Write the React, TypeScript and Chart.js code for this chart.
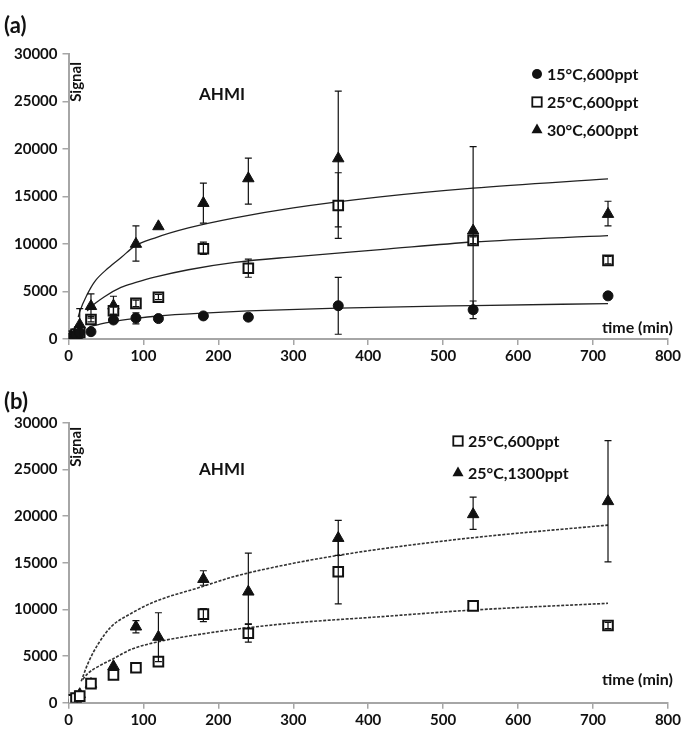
import React, { useEffect, useRef } from "react";
import { Chart, registerables } from "chart.js";
Chart.register(...registerables);

// ---------- data ----------
const TIMES = [5, 10, 15, 30, 60, 90, 120, 180, 240, 360, 540, 720];

// panel (a)
const A_15C_600 = [250, 450, 650, 770, 2000, 2200, 2150, 2430, 2300, 3500, 3080, 4540];
const A_15C_600_LO = [null, null, null, null, null, 1600, null, null, null, 500, 2150, null];
const A_15C_600_HI = [null, null, null, null, null, 2750, null, null, null, 6480, 4000, null];

const S_25C_600 = [300, 500, 700, 2050, 2980, 3750, 4400, 9500, 7450, 14050, 10380, 8280];
const A_25C_600_LO = [null, null, null, 1800, 2600, 3400, 4150, 8900, 6500, 10600, 10050, 7900];
const A_25C_600_HI = [null, null, null, 2350, 3350, 4100, 4700, 10200, 8400, 17500, 10750, 8700];

const A_30C_600 = [400, 800, 1500, 3450, 3500, 10000, 11850, 14300, 16900, 19000, 11400, 13150];
const A_30C_600_LO = [null, null, 100, 2200, 2600, 8200, null, 12200, 14200, 11800, 2700, 11900];
const A_30C_600_HI = [null, null, 3200, 4750, 4500, 11900, null, 16400, 19050, 26100, 20250, 14500];

// fitted curves, panel (a): time / signal
const FIT_A_15C_T = [28, 40, 60, 90, 120, 180, 240, 360, 540, 720];
const FIT_A_15C_V = [1300, 1520, 1860, 2180, 2420, 2720, 2950, 3250, 3520, 3730];
const FIT_A_25C_T = [25, 30, 48, 70, 90, 115, 160, 222, 300, 416, 540, 720];
const FIT_A_25C_V = [2950, 3380, 4450, 5430, 5950, 6510, 7290, 8060, 8650, 9400, 10210, 10880];
const FIT_A_30C_T = [13, 15, 25, 35, 53, 71, 88, 115, 160, 222, 300, 416, 540, 720];
const FIT_A_30C_V = [2300, 2880, 4700, 6050, 7470, 8630, 9750, 10630, 11690, 12750, 13800, 14960, 15880, 16860];

// panel (b)
const B_25C_600_LO = [null, null, null, null, null, null, null, 8700, 6500, 10600, null, 7950];
const B_25C_600_HI = [null, null, null, null, null, null, null, 10100, 8400, 17500, null, 8600];

const B_25C_1300 = [300, 600, 900, 2000, 3900, 8150, 7050, 13250, 11900, 17650, 20200, 21600];
const B_25C_1300_LO = [null, null, null, null, null, 7500, 4400, 12600, 8450, 15800, 18600, 15100];
const B_25C_1300_HI = [null, null, null, null, null, 8800, 9650, 14150, 16050, 19550, 22050, 28100];

const FIT_B_600_T = [19, 26, 40, 57, 84, 120, 178, 222, 300, 416, 540, 720];
const FIT_B_600_V = [2500, 3150, 3900, 4600, 5730, 6540, 7370, 7870, 8550, 9220, 9940, 10660];
const FIT_B_1300_T = [17, 26, 40, 57, 84, 115, 178, 222, 300, 360, 416, 540, 720];
const FIT_B_1300_V = [2300, 4220, 6350, 8150, 9590, 10830, 12440, 13550, 14950, 15800, 16480, 17700, 19050];

const X_TICKS = { min: 0, max: 800, step: 100 };
const Y_TICKS = { min: 0, max: 30000, step: 5000 };

const LEGEND_A = ["15°C,600ppt", "25°C,600ppt", "30°C,600ppt"];
const LEGEND_B = ["25°C,600ppt", "25°C,1300ppt"];

// ---------- styling ----------
const FONT = 'Lato, "Open Sans", "DejaVu Sans", sans-serif';
const AXIS = "#a6a6a6";
const INK = "#111111";

const pts = (xs: number[], ys: number[]) => xs.map((x, i) => ({ x, y: ys[i] }));

function markerDataset(label: string, values: number[], lo: any[], hi: any[], style: string) {
  const base: any = {
    type: "scatter",
    label,
    data: pts(TIMES, values),
    errLo: lo,
    errHi: hi,
    showLine: false,
    order: 1,
    pointBorderColor: INK,
  };
  if (style === "circle") {
    Object.assign(base, { pointStyle: "circle", pointRadius: 5, pointBackgroundColor: INK, pointBorderWidth: 1 });
  } else if (style === "rect") {
    Object.assign(base, { pointStyle: "rect", pointRadius: 6.8, pointBackgroundColor: "#ffffff", pointBorderWidth: 2 });
  } else {
    Object.assign(base, { pointStyle: "triangle", pointRadius: 6.6, pointBackgroundColor: INK, pointBorderWidth: 1 });
  }
  return base;
}

function fitDataset(ts: number[], vs: number[], dashed: boolean) {
  return {
    type: "scatter",
    data: pts(ts, vs),
    showLine: true,
    cubicInterpolationMode: "monotone",
    borderColor: dashed ? "#333333" : "#222222",
    borderWidth: dashed ? 1.6 : 1.3,
    borderDash: dashed ? [3, 1.5] : [],
    pointRadius: 0,
    order: 2,
  };
}

function drawMarker(ctx: CanvasRenderingContext2D, style: string, x: number, y: number) {
  ctx.save();
  ctx.strokeStyle = INK;
  ctx.fillStyle = INK;
  if (style === "circle") {
    ctx.beginPath();
    ctx.arc(x, y, 5, 0, Math.PI * 2);
    ctx.fill();
  } else if (style === "rect") {
    ctx.fillStyle = "#fff";
    ctx.lineWidth = 1.8;
    ctx.fillRect(x - 4.7, y - 4.7, 9.4, 9.4);
    ctx.strokeRect(x - 4.7, y - 4.7, 9.4, 9.4);
  } else {
    const r = 6.4;
    ctx.beginPath();
    ctx.moveTo(x, y - r);
    ctx.lineTo(x + r * 0.866, y + r * 0.5);
    ctx.lineTo(x - r * 0.866, y + r * 0.5);
    ctx.closePath();
    ctx.fill();
  }
  ctx.restore();
}

const errorBarPlugin = {
  id: "errbars",
  afterDatasetsDraw(chart: any) {
    const ctx = chart.ctx;
    const xs = chart.scales.x;
    const ys = chart.scales.y;
    chart.data.datasets.forEach((ds: any) => {
      if (!ds.errLo) return;
      ctx.save();
      ctx.strokeStyle = INK;
      ctx.lineWidth = 1.2;
      ds.data.forEach((p: any, j: number) => {
        const lo = ds.errLo[j];
        const hi = ds.errHi[j];
        if (lo == null || hi == null) return;
        const x = xs.getPixelForValue(p.x);
        const y1 = ys.getPixelForValue(lo);
        const y2 = ys.getPixelForValue(hi);
        ctx.beginPath();
        ctx.moveTo(x, y1);
        ctx.lineTo(x, y2);
        ctx.moveTo(x - 3.5, y1);
        ctx.lineTo(x + 3.5, y1);
        ctx.moveTo(x - 3.5, y2);
        ctx.lineTo(x + 3.5, y2);
        ctx.stroke();
      });
      ctx.restore();
    });
  },
};

type Deco = {
  panel: string;
  panelY: number;
  signalY: number;
  ahmiY: number;
  legend: string[];
  legendStyles: string[];
  legendX: number;
  legendY: number[];
  timeY: number;
};

function decoPlugin(d: Deco) {
  return {
    id: "deco",
    afterDraw(chart: any) {
      const ctx: CanvasRenderingContext2D = chart.ctx;
      ctx.save();
      ctx.fillStyle = INK;
      // panel letter
      ctx.font = `bold 22px ${FONT}`;
      ctx.textAlign = "left";
      ctx.textBaseline = "middle";
      ctx.fillText(d.panel, 4, d.panelY);
      // AHMI
      ctx.font = `bold 17px ${FONT}`;
      ctx.textAlign = "center";
      ctx.fillText("AHMI", 222, d.ahmiY);
      // time label
      ctx.font = `bold 16px ${FONT}`;
      ctx.textAlign = "right";
      ctx.fillText("time (min)", 673, d.timeY);
      // legend
      ctx.font = `bold 16px ${FONT}`;
      ctx.textAlign = "left";
      d.legend.forEach((t, i) => {
        drawMarker(ctx, d.legendStyles[i], d.legendX, d.legendY[i]);
        ctx.fillStyle = INK;
        ctx.fillText(t, d.legendX + 10, d.legendY[i] + 1);
      });
      // Signal (rotated)
      ctx.translate(76, d.signalY);
      ctx.rotate(-Math.PI / 2);
      ctx.font = `bold 15px ${FONT}`;
      ctx.textAlign = "center";
      ctx.textBaseline = "middle";
      ctx.fillText("Signal", 0, 0);
      ctx.restore();
    },
  };
}

function scales(xHeight: number) {
  const tickFont = { family: FONT, weight: "bold" as const, size: 15 };
  return {
    x: {
      type: "linear" as const,
      min: X_TICKS.min,
      max: X_TICKS.max,
      ticks: {
        stepSize: X_TICKS.step,
        color: INK,
        font: tickFont,
        padding: 2,
        maxRotation: 0,
        callback: (v: any) => String(v),
      },
      grid: { display: true, drawOnChartArea: false, drawTicks: true, tickLength: 6, color: AXIS, lineWidth: 1.5 },
      border: { display: true, color: AXIS, width: 2 },
      afterFit: (s: any) => {
        s.height = xHeight;
      },
    },
    y: {
      type: "linear" as const,
      min: Y_TICKS.min,
      max: Y_TICKS.max,
      ticks: { stepSize: Y_TICKS.step, color: INK, font: tickFont, padding: 5, callback: (v: any) => String(v) },
      grid: { display: true, drawOnChartArea: false, drawTicks: true, tickLength: 6, color: AXIS, lineWidth: 1.5 },
      border: { display: true, color: AXIS, width: 2 },
      afterFit: (s: any) => {
        s.width = 68.5;
      },
    },
  };
}

function buildA(canvas: HTMLCanvasElement) {
  return new Chart(canvas, {
    type: "scatter",
    data: {
      datasets: [
        markerDataset(LEGEND_A[0], A_15C_600, A_15C_600_LO, A_15C_600_HI, "circle"),
        markerDataset(LEGEND_A[1], S_25C_600, A_25C_600_LO, A_25C_600_HI, "rect"),
        markerDataset(LEGEND_A[2], A_30C_600, A_30C_600_LO, A_30C_600_HI, "triangle"),
        fitDataset(FIT_A_15C_T, FIT_A_15C_V, false),
        fitDataset(FIT_A_25C_T, FIT_A_25C_V, false),
        fitDataset(FIT_A_30C_T, FIT_A_30C_V, false),
      ] as any,
    },
    options: {
      responsive: false,
      animation: false,
      layout: { padding: { top: 54, right: 15, left: 0, bottom: 0 } },
      plugins: { legend: { display: false }, tooltip: { enabled: false } },
      scales: scales(26) as any,
    },
    plugins: [
      errorBarPlugin,
      decoPlugin({
        panel: "(a)",
        panelY: 26,
        signalY: 82,
        ahmiY: 95,
        legend: LEGEND_A,
        legendStyles: ["circle", "rect", "triangle"],
        legendX: 537,
        legendY: [74, 102, 130],
        timeY: 328,
      }),
    ],
  } as any);
}

function buildB(canvas: HTMLCanvasElement) {
  return new Chart(canvas, {
    type: "scatter",
    data: {
      datasets: [
        markerDataset(LEGEND_B[0], S_25C_600, B_25C_600_LO, B_25C_600_HI, "rect"),
        markerDataset(LEGEND_B[1], B_25C_1300, B_25C_1300_LO, B_25C_1300_HI, "triangle"),
        fitDataset(FIT_B_600_T, FIT_B_600_V, true),
        fitDataset(FIT_B_1300_T, FIT_B_1300_V, true),
      ] as any,
    },
    options: {
      responsive: false,
      animation: false,
      layout: { padding: { top: 58, right: 15, left: 0, bottom: 0 } },
      plugins: { legend: { display: false }, tooltip: { enabled: false } },
      scales: scales(27.3) as any,
    },
    plugins: [
      errorBarPlugin,
      decoPlugin({
        panel: "(b)",
        panelY: 37,
        signalY: 82,
        ahmiY: 105,
        legend: LEGEND_B,
        legendStyles: ["rect", "triangle"],
        legendX: 458,
        legendY: [76, 108],
        timeY: 315,
      }),
    ],
  } as any);
}

export default function App() {
  const refA = useRef<HTMLCanvasElement>(null);
  const refB = useRef<HTMLCanvasElement>(null);
  useEffect(() => {
    const a = buildA(refA.current!);
    const b = buildB(refB.current!);
    return () => {
      a.destroy();
      b.destroy();
    };
  }, []);
  return (
    <div style={{ position: "absolute", left: 0, top: 0, width: 683, height: 730, background: "#fff" }}>
      <canvas ref={refA} width={683} height={365} style={{ position: "absolute", left: 0, top: 0, width: 683, height: 365 }} />
      <canvas ref={refB} width={683} height={365} style={{ position: "absolute", left: 0, top: 365, width: 683, height: 365 }} />
    </div>
  );
}
